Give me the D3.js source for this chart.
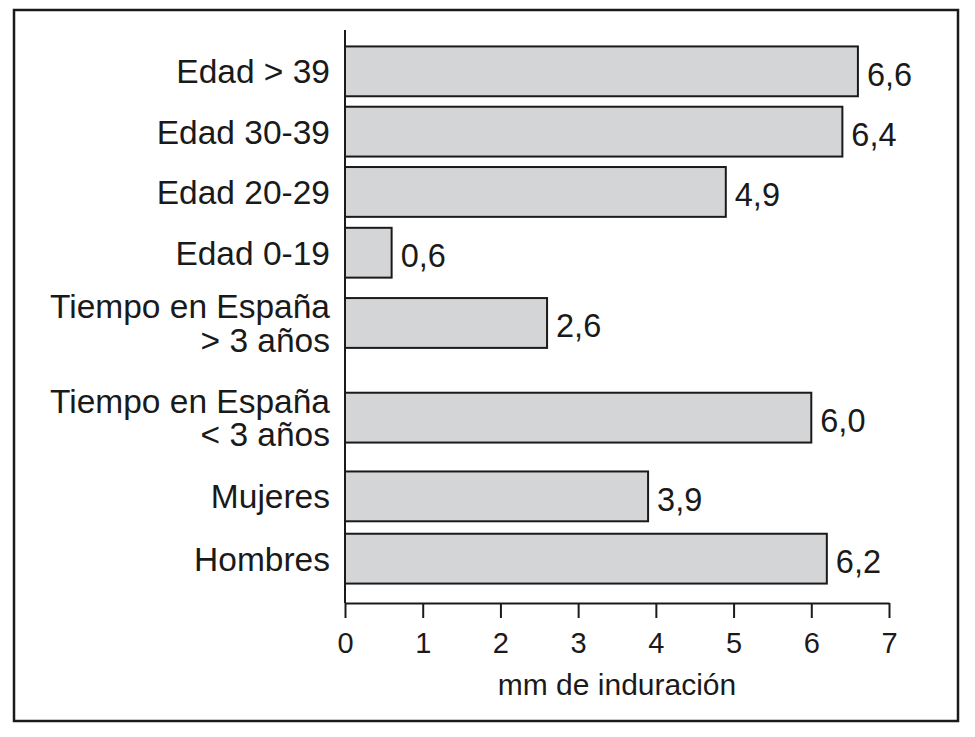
<!DOCTYPE html>
<html>
<head>
<meta charset="utf-8">
<script src="https://cdn.jsdelivr.net/npm/d3@7"></script>
<style>
  html, body { margin: 0; padding: 0; background: #fff; }
  svg { display: block; font-family: "Liberation Sans", Arial, Helvetica, sans-serif; }
</style>
</head>
<body>
<svg id="chart" width="975" height="737"></svg>
<script>
// ---- data ----
const categories = [
  "Edad > 39",
  "Edad 30-39",
  "Edad 20-29",
  "Edad 0-19",
  "Tiempo en España\n> 3 años",
  "Tiempo en España\n< 3 años",
  "Mujeres",
  "Hombres"
];
const values = [6.6, 6.4, 4.9, 0.6, 2.6, 6.0, 3.9, 6.2];
const valueLabels = ["6,6", "6,4", "4,9", "0,6", "2,6", "6,0", "3,9", "6,2"];
const tickValues = [0, 1, 2, 3, 4, 5, 6, 7];
const xTitle = "mm de induración";

// ---- layout (gaps between rows, in bar-height units) ----
const topPad = 0.33, bottomPad = 0.39;
const gapsAfter = [0.21, 0.21, 0.22, 0.41, 0.9, 0.58, 0.25];

const svg = d3.select("#chart");
const plotLeft = 345, plotRight = 889, plotTop = 30, plotBottom = 603;

// cumulative slot positions
const starts = [];
let acc = topPad;
categories.forEach((c, i) => { starts.push(acc); acc += 1 + (gapsAfter[i] || 0); });
const totalUnits = acc + bottomPad;

const yUnit = d3.scaleLinear().domain([0, totalUnits]).range([plotTop, plotBottom]);
const bandH = yUnit(1) - yUnit(0);
const x = d3.scaleLinear().domain([0, 7]).range([plotLeft, plotRight]);

// outer frame
svg.append("rect")
  .attr("x", 14).attr("y", 10).attr("width", 944).attr("height", 711)
  .attr("fill", "none").attr("stroke", "#1a1a1a").attr("stroke-width", 2.5);

// bars
const rows = svg.append("g").selectAll("g").data(categories).join("g");
rows.append("rect")
  .attr("x", x(0))
  .attr("y", (d, i) => yUnit(starts[i]))
  .attr("width", (d, i) => x(values[i]) - x(0))
  .attr("height", bandH)
  .attr("fill", "#d4d5d7")
  .attr("stroke", "#1a1a1a")
  .attr("stroke-width", 2);

// value labels
rows.append("text")
  .attr("x", (d, i) => x(values[i]) + 9)
  .attr("y", (d, i) => yUnit(starts[i]) + bandH / 2 + 14.5)
  .attr("font-size", 32.5)
  .attr("fill", "#1a1a1a")
  .text((d, i) => valueLabels[i]);

// category labels
const lineH = 33.4;
rows.append("text")
  .attr("text-anchor", "end")
  .attr("font-size", 33.5)
  .attr("fill", "#1a1a1a")
  .each(function (d, i) {
    const lines = d.split("\n");
    const cy = yUnit(starts[i]) + bandH / 2;
    const first = cy + 12 - (lines.length - 1) * lineH / 2;
    lines.forEach((ln, j) => {
      d3.select(this).append("tspan")
        .attr("x", 330)
        .attr("y", first + j * lineH)
        .text(ln);
    });
  });

// y axis line
svg.append("line")
  .attr("x1", plotLeft).attr("x2", plotLeft)
  .attr("y1", plotTop).attr("y2", plotBottom)
  .attr("stroke", "#1a1a1a").attr("stroke-width", 2);

// x axis
const xAxis = d3.axisBottom(x).tickValues(tickValues).tickSize(15).tickSizeOuter(0)
  .tickFormat(d3.format("d"));
const gx = svg.append("g").attr("transform", `translate(0,${plotBottom})`).call(xAxis);
gx.select(".domain").attr("stroke", "#1a1a1a").attr("stroke-width", 2);
gx.selectAll(".tick line").attr("stroke", "#1a1a1a").attr("stroke-width", 2);
gx.selectAll(".tick text")
  .attr("font-size", 29)
  .attr("font-family", "Liberation Sans, Arial, sans-serif")
  .attr("fill", "#1a1a1a")
  .attr("dy", null)
  .attr("y", 50);

// x title
svg.append("text")
  .attr("x", (plotLeft + plotRight) / 2)
  .attr("y", 695)
  .attr("text-anchor", "middle")
  .attr("font-size", 30)
  .attr("fill", "#1a1a1a")
  .text(xTitle);
</script>
</body>
</html>
